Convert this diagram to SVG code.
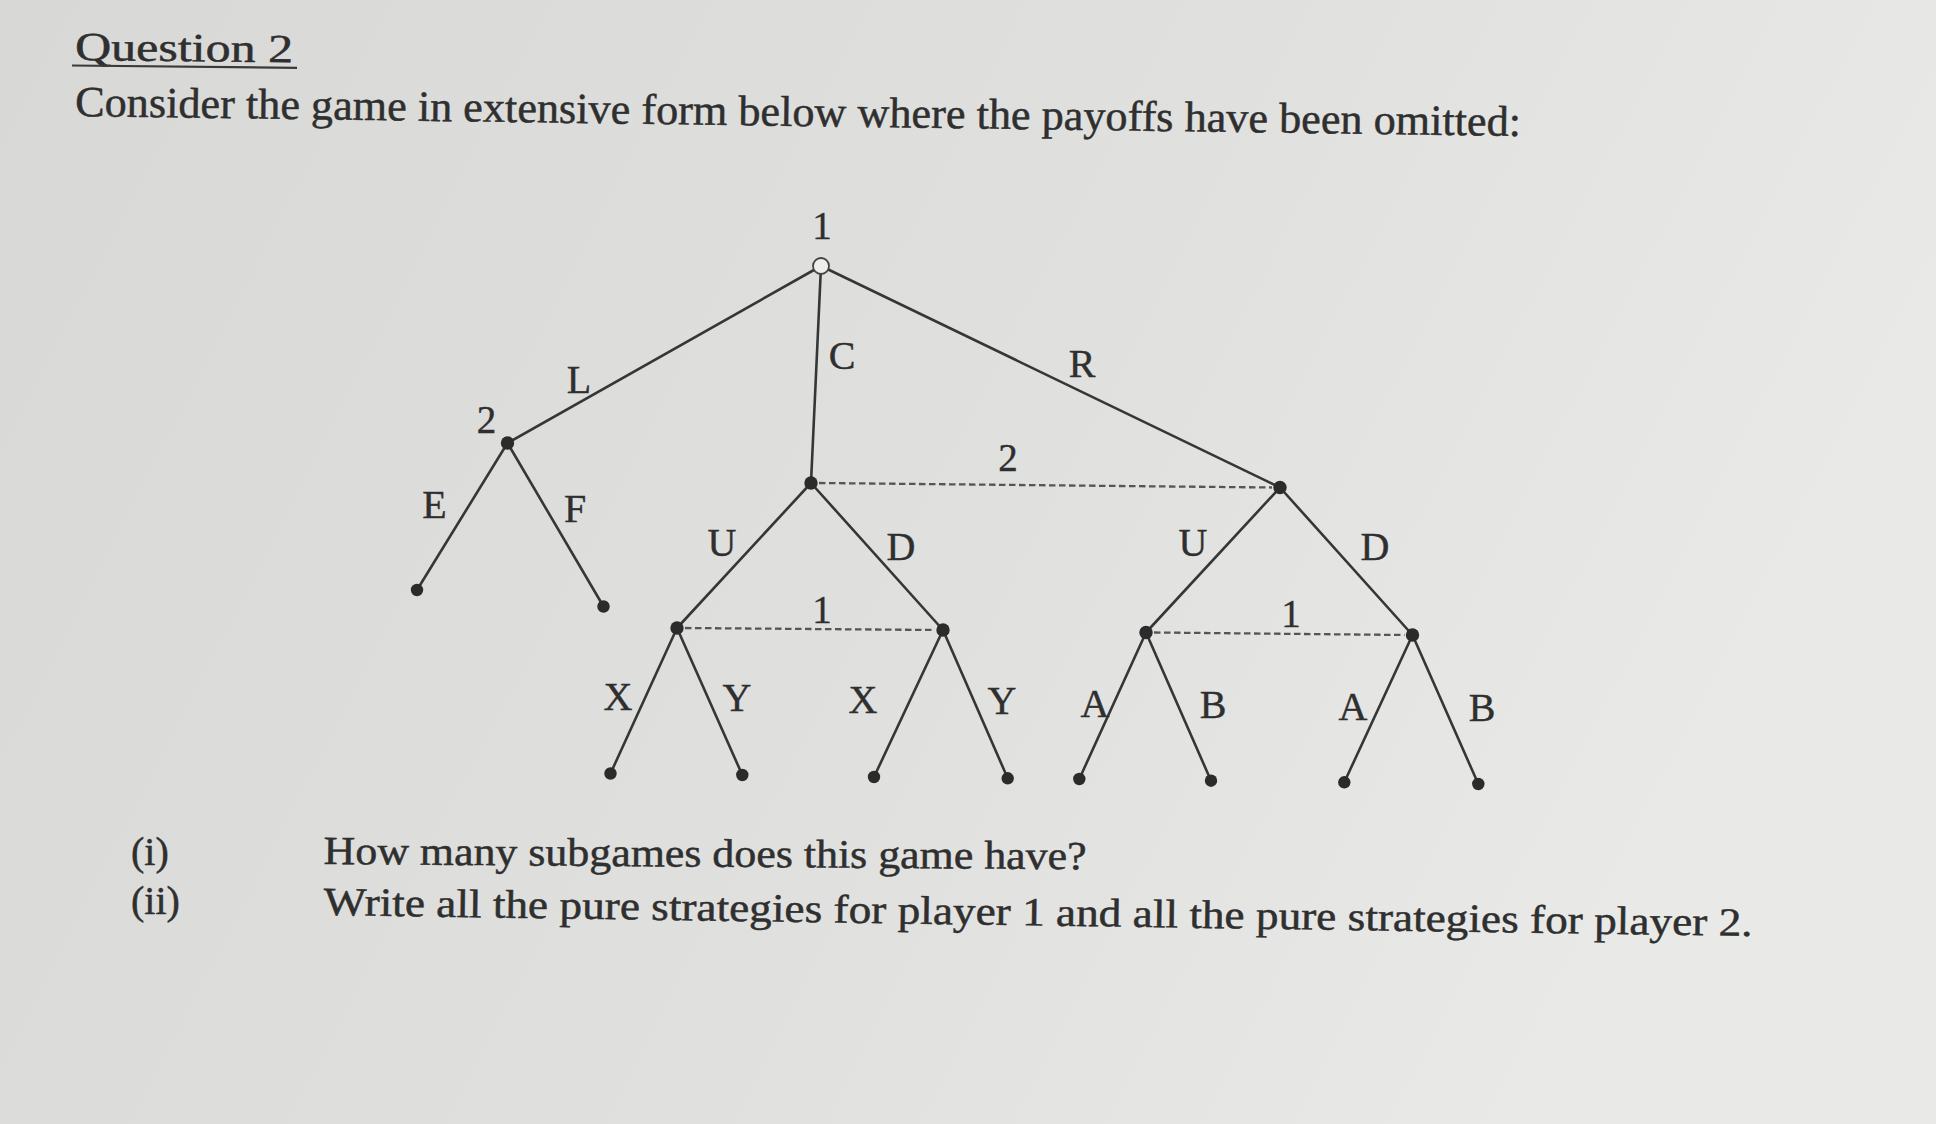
<svg xmlns="http://www.w3.org/2000/svg" width="1936" height="1124" viewBox="0 0 1936 1124">
<defs>
<linearGradient id="paper" x1="0" y1="0" x2="1" y2="0.3">
<stop offset="0" stop-color="#d8d9d7"/>
<stop offset="0.6" stop-color="#e0e1df"/>
<stop offset="1" stop-color="#e9eae8"/>
</linearGradient>
<style>
.txt{font-family:"Liberation Serif","Times New Roman",serif;fill:#2f2f2f;stroke:#2f2f2f;stroke-width:0.5}
.lbl{font-family:"Liberation Serif","Times New Roman",serif;fill:#2f2f2f;stroke:#2f2f2f;stroke-width:0.4;font-size:40px;text-anchor:middle}
.num{font-family:"Liberation Serif","Times New Roman",serif;fill:#2f2f2f;stroke:#2f2f2f;stroke-width:0.4;font-size:39px;text-anchor:middle}
.edge{stroke:#363636;stroke-width:2.6;fill:none;stroke-linecap:round}
.info{stroke:#555;stroke-width:2.3;fill:none;stroke-dasharray:6.5 3.5}
.dot{fill:#2b2b2b}
.open{fill:#eeeeec;stroke:#444;stroke-width:1.8}
</style>
</defs>
<rect x="0" y="0" width="1936" height="1124" fill="url(#paper)"/>

<g id="header">
<text class="txt" x="75" y="60" font-size="40" textLength="218" lengthAdjust="spacingAndGlyphs" transform="rotate(0.6 75 60)">Question 2</text>
<line x1="72" y1="65.5" x2="297" y2="67.9" stroke="#3a3a3a" stroke-width="2.2"/>
<text class="txt" x="75" y="116" font-size="43" textLength="1446" lengthAdjust="spacingAndGlyphs" transform="rotate(0.79 75 116)">Consider the game in extensive form below where the payoffs have been omitted:</text>
</g>

<g id="connectors">
<line class="edge" x1="821" y1="266" x2="507.5" y2="443"/>
<line class="edge" x1="821" y1="266" x2="811" y2="483"/>
<line class="edge" x1="821" y1="266" x2="1280" y2="487.5"/>
<line class="edge" x1="507.5" y1="443" x2="417" y2="590"/>
<line class="edge" x1="507.5" y1="443" x2="603.5" y2="606.5"/>
<line class="edge" x1="811" y1="483" x2="677" y2="628"/>
<line class="edge" x1="811" y1="483" x2="943" y2="630"/>
<line class="edge" x1="1280" y1="487.5" x2="1146" y2="632.5"/>
<line class="edge" x1="1280" y1="487.5" x2="1412.5" y2="635"/>
<line class="edge" x1="677" y1="628" x2="610.5" y2="773.5"/>
<line class="edge" x1="677" y1="628" x2="742.3" y2="775"/>
<line class="edge" x1="943" y1="630" x2="874" y2="777"/>
<line class="edge" x1="943" y1="630" x2="1007.7" y2="778.3"/>
<line class="edge" x1="1146" y1="632.5" x2="1079.3" y2="779"/>
<line class="edge" x1="1146" y1="632.5" x2="1211" y2="780.7"/>
<line class="edge" x1="1412.5" y1="635" x2="1344.3" y2="782.3"/>
<line class="edge" x1="1412.5" y1="635" x2="1478.3" y2="784"/>
<line class="info" x1="819" y1="483" x2="1272" y2="487.5"/>
<line class="info" x1="685" y1="628" x2="935" y2="630"/>
<line class="info" x1="1154" y1="632.5" x2="1404.5" y2="635"/>
<text class="lbl" x="579" y="393">L</text>
<text class="lbl" x="842" y="369">C</text>
<text class="lbl" x="1082" y="377">R</text>
<text class="lbl" x="434.5" y="518">E</text>
<text class="lbl" x="575" y="522">F</text>
<text class="lbl" x="722" y="556">U</text>
<text class="lbl" x="901" y="560">D</text>
<text class="lbl" x="1193" y="556">U</text>
<text class="lbl" x="1375" y="560">D</text>
<text class="lbl" x="618" y="710">X</text>
<text class="lbl" x="737" y="711">Y</text>
<text class="lbl" x="863" y="713">X</text>
<text class="lbl" x="1002" y="714">Y</text>
<text class="lbl" x="1095" y="717">A</text>
<text class="lbl" x="1213" y="718">B</text>
<text class="lbl" x="1353" y="720">A</text>
<text class="lbl" x="1482" y="721">B</text>
<text class="num" x="1008" y="471">2</text>
<text class="num" x="822" y="623">1</text>
<text class="num" x="1291" y="627">1</text>
</g>

<g id="node-root"><circle class="open" cx="821" cy="266" r="8"/><text class="num" x="822" y="239">1</text></g>
<g id="node-p2"><circle class="dot" cx="507.5" cy="443" r="6.7"/><text class="num" x="486.5" y="433">2</text></g>
<g id="node-c"><circle class="dot" cx="811" cy="483" r="6.7"/></g>
<g id="node-r"><circle class="dot" cx="1280" cy="487.5" r="6.7"/></g>
<g id="node-ul"><circle class="dot" cx="677" cy="628" r="6.7"/></g>
<g id="node-dl"><circle class="dot" cx="943" cy="630" r="6.7"/></g>
<g id="node-ur"><circle class="dot" cx="1146" cy="632.5" r="6.7"/></g>
<g id="node-dr"><circle class="dot" cx="1412.5" cy="635" r="6.7"/></g>
<g id="leaf-e"><circle class="dot" cx="417" cy="590" r="6.2"/></g>
<g id="leaf-f"><circle class="dot" cx="603.5" cy="606.5" r="6.2"/></g>
<g id="leaf-1"><circle class="dot" cx="610.5" cy="773.5" r="6.2"/></g>
<g id="leaf-2"><circle class="dot" cx="742.3" cy="775" r="6.2"/></g>
<g id="leaf-3"><circle class="dot" cx="874" cy="777" r="6.2"/></g>
<g id="leaf-4"><circle class="dot" cx="1007.7" cy="778.3" r="6.2"/></g>
<g id="leaf-5"><circle class="dot" cx="1079.3" cy="779" r="6.2"/></g>
<g id="leaf-6"><circle class="dot" cx="1211" cy="780.7" r="6.2"/></g>
<g id="leaf-7"><circle class="dot" cx="1344.3" cy="782.3" r="6.2"/></g>
<g id="leaf-8"><circle class="dot" cx="1478.3" cy="784" r="6.2"/></g>

<g id="questions">
<text class="txt" x="131" y="865" font-size="40">(i)</text>
<text class="txt" x="131" y="914" font-size="40">(ii)</text>
<text class="txt" x="323.5" y="864" font-size="40" textLength="763" lengthAdjust="spacingAndGlyphs" transform="rotate(0.4 323.5 864)">How many subgames does this game have?</text>
<text class="txt" x="323.5" y="915" font-size="40" textLength="1429" lengthAdjust="spacingAndGlyphs" transform="rotate(0.84 323.5 915)">Write all the pure strategies for player 1 and all the pure strategies for player 2.</text>
</g>
</svg>
